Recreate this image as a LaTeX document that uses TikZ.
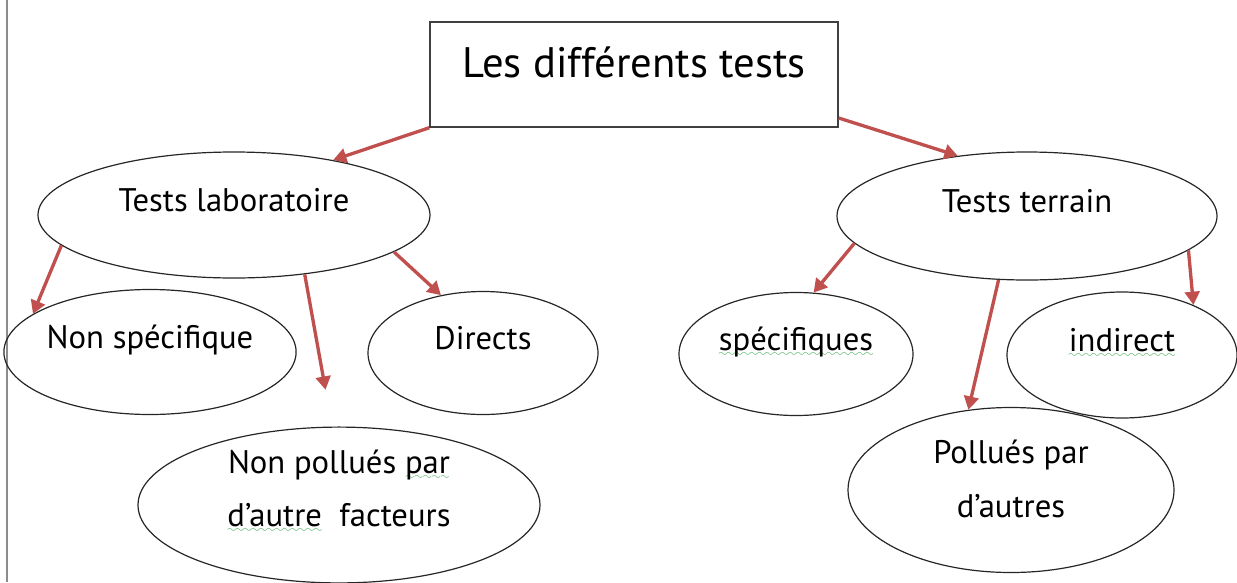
\documentclass[tikz,border=0pt]{standalone}
\usepackage{fontspec}
\setmainfont{PT Sans}
\usetikzlibrary{positioning,arrows.meta,shapes.geometric}
\definecolor{arrowred}{HTML}{C0504D}
\definecolor{spellgreen}{HTML}{2EA043}
\font\wavefont=lasy8
\newsavebox\wavebox
\newcommand\spellwave[1]{\sbox\wavebox{#1}\rlap{\lower4.5pt\hbox to\wd\wavebox{\color{spellgreen}\xleaders\hbox{\wavefont\char58}\hfil}}\usebox\wavebox}

\begin{document}
\begin{tikzpicture}[x=0.75pt, y=-0.75pt,
    bubble/.style={ellipse, draw=black!85, line width=0.9pt, inner sep=0pt,
      font=\fontsize{24.5}{40}\selectfont},
    oneline/.style={bubble, text height=19pt, text depth=25pt},
    twoline/.style={bubble, align=center},
    link/.style={arrowred, line width=2.5pt, -{Triangle[length=10pt,width=11pt]}}]
  \useasboundingbox (0,0) rectangle (1237,582);

  % Page edge
  \draw[black!45, line width=0.8pt] (7,0) -- (7,582);

  % Title
  \node[draw=black!75, line width=1.1pt, inner sep=0pt,
    minimum width=306pt, minimum height=78.75pt,
    font=\fontsize{32}{38}\selectfont, text height=25pt, text depth=20pt]
    (title) at (634,74.5) {Les différents tests};

  % Two families
  \node[oneline, minimum width=294pt, minimum height=94.5pt] (labo) at (234,215) {Tests laboratoire};
  \node[oneline, minimum width=285pt, minimum height=96pt] (terrain) at (1027,216) {Tests terrain};

  % Laboratory tests
  \node[oneline, minimum width=214.5pt, minimum height=93.75pt] (nonspec) at (150,352) {Non spécifique};
  \node[oneline, minimum width=172.5pt, minimum height=92.25pt] (directs) at (483,353) {Directs};
  \node[twoline, text depth=25pt, minimum width=301.5pt, minimum height=108.75pt] (nonpol) at (339,505)
    {Non pollués \spellwave{par}\\ \spellwave{d’autre}~ facteurs};

  % Field tests
  \node[oneline, minimum width=175.5pt, minimum height=92.25pt] (specif) at (796,354) {\spellwave{spécifiques}};
  \node[oneline, minimum width=172.5pt, minimum height=94.5pt] (indirect) at (1122,355) {\spellwave{indirect}};
  \node[twoline, text depth=17pt, minimum width=244.5pt, minimum height=123.75pt] (pollues) at (1011,490)
    {Pollués par\\ d’autres};

  % Arrows
  \draw[link] (title.south west) -- (labo.29);
  \draw[link] (title.-12) -- (terrain.139);
  \draw[link] (labo.190) -- (nonspec.162);
  \draw[link, shorten >=28pt] (labo.-40) -- (nonpol.95);
  \draw[link] (labo.-13) -- (directs.126);
  \draw[link] (terrain.189) -- (specif.74);
  \draw[link] (terrain.246) -- (pollues.118);
  \draw[link] (terrain.-12) -- (indirect.35);
\end{tikzpicture}
\end{document}
